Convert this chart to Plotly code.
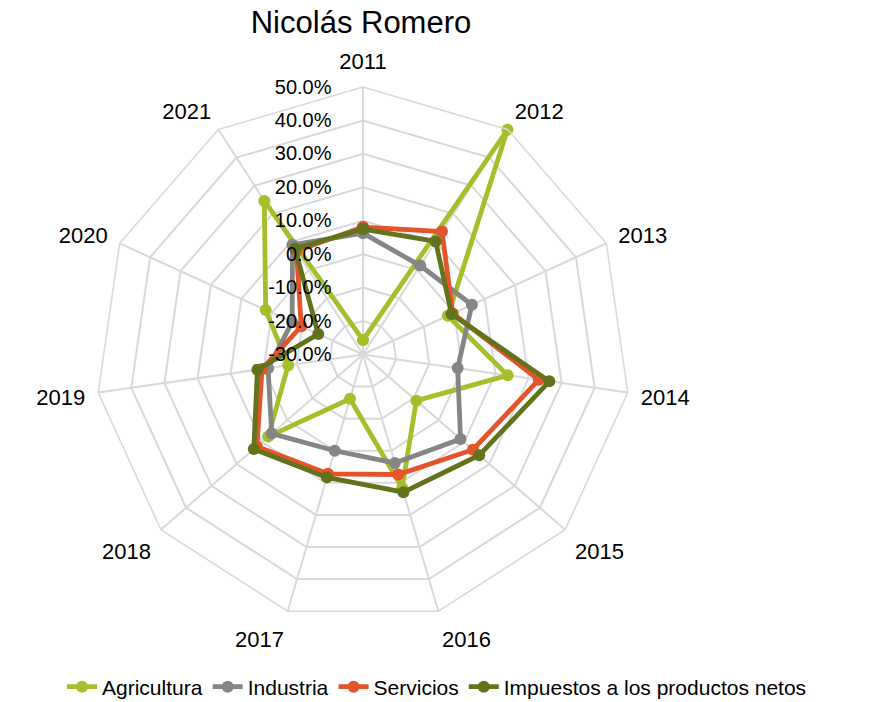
import plotly.graph_objects as go

categorias = ["2011", "2012", "2013", "2014", "2015", "2016", "2017", "2018", "2019", "2020", "2021"]

agricultura = [-25.7, 49.9, -2.1, 13.7, -8.9, 11.6, -16.2, 7.5, -7.4, 2.0, 24.6]
industria = [6.3, 1.6, 5.8, -1.4, 8.6, 3.8, 0.0, 6.1, -1.3, -6.7, 9.0]
servicios = [8.1, 13.7, -0.5, 23.1, 13.5, 7.4, 7.2, 12.0, 0.5, -9.7, 6.8]
impuestos = [7.5, 10.2, -0.9, 26.3, 16.0, 12.9, 8.3, 13.2, 1.9, -15.3, 7.6]

eje_min, eje_max = -30, 50
tick_vals = [-30, -20, -10, 0, 10, 20, 30, 40, 50]
tick_text = ["-30.0%", "-20.0%", "-10.0%", "0.0%", "10.0%", "20.0%", "30.0%", "40.0%", "50.0%"]

series = [
    ("Agricultura", agricultura, "#A5BE2A"),
    ("Industria", industria, "#858585"),
    ("Servicios", servicios, "#E3542A"),
    ("Impuestos a los productos netos", impuestos, "#62731B"),
]

# Plotly's polygonal (gridshape="linear") polar grid hides markers when the
# radial range starts below zero, so the radial axis is offset by eje_min and
# relabelled with the original percentages.
def offset(vals):
    return [v - eje_min for v in vals]

fig = go.Figure()
for name, vals, color in series:
    r = offset(vals)
    fig.add_trace(go.Scatterpolar(
        r=r + r[:1],
        theta=categorias + categorias[:1],
        mode="lines+markers",
        name=name,
        line=dict(color=color, width=4.8),
        marker=dict(color=color, size=12, symbol="circle"),
    ))

W, H = 874, 702
cx, cy, R = 363, 354.5, 267.5

fig.update_layout(
    template="none",
    width=W, height=H,
    margin=dict(l=0, r=0, t=0, b=0, autoexpand=False),
    paper_bgcolor="white",
    plot_bgcolor="white",
    font=dict(family="Liberation Sans, Arial, sans-serif", color="black"),
    title=dict(text="Nicolás Romero", x=361 / W, xref="container", xanchor="center",
               y=1 - 22 / H, yref="container", yanchor="middle",
               font=dict(size=31, color="black")),
    polar=dict(
        domain=dict(x=[(cx - R) / W, (cx + R) / W], y=[1 - (cy + R) / H, 1 - (cy - R) / H]),
        bgcolor="white",
        gridshape="linear",
        radialaxis=dict(
            range=[0, eje_max - eje_min],
            tickvals=offset(tick_vals),
            ticktext=tick_text,
            angle=90,
            tickangle=90,
            side="counterclockwise",
            showline=False,
            linecolor="#D9D9D9",
            ticks="outside",
            ticklen=24,
            tickcolor="rgba(0,0,0,0)",
            gridcolor="#D9D9D9",
            gridwidth=1.5,
            tickfont=dict(size=20, color="black"),
        ),
        angularaxis=dict(
            type="category",
            categoryorder="array",
            categoryarray=categorias,
            direction="clockwise",
            rotation=90,
            gridcolor="#D9D9D9",
            gridwidth=1.5,
            linecolor="#D9D9D9",
            linewidth=1.5,
            ticks="outside",
            ticklen=8,
            tickcolor="rgba(0,0,0,0)",
            tickfont=dict(size=22, color="black"),
        ),
    ),
    legend=dict(
        orientation="h",
        xref="container", yref="container",
        x=0.5, xanchor="center",
        y=1 - 687 / H, yanchor="middle",
        font=dict(size=21, color="black"),
        bgcolor="rgba(0,0,0,0)",
    ),
    showlegend=True,
)

fig.write_html("out.html", config={"displayModeBar": False},
               post_script="document.body.style.margin='0';")
